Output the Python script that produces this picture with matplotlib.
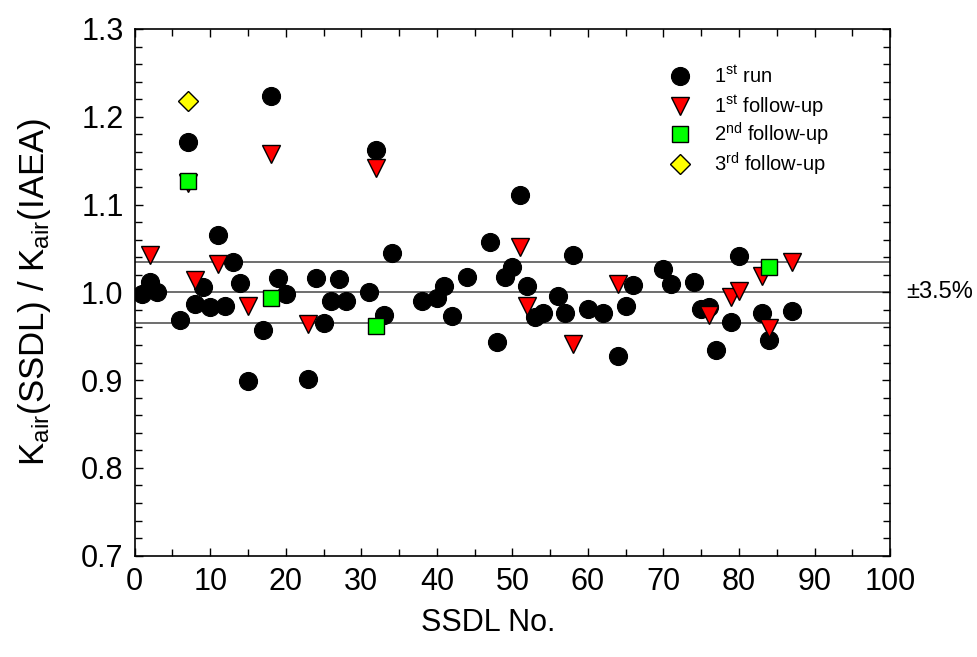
import matplotlib
matplotlib.use("Agg")
import matplotlib.pyplot as plt
from matplotlib.ticker import MultipleLocator

plt.rcParams['font.family'] = ['Liberation Sans', 'DejaVu Sans']
plt.rcParams['mathtext.fontset'] = 'custom'
plt.rcParams['mathtext.rm'] = 'Liberation Sans'
plt.rcParams['mathtext.it'] = 'Liberation Sans:italic'

# 1st run
run1_x = [1, 2, 3, 6, 7, 8, 9, 10, 11, 12, 13, 14, 15, 17, 18, 19, 20, 23, 24, 25,
          26, 27, 28, 31, 32, 33, 34, 38, 40, 41, 42, 44, 47, 48, 49, 50, 51, 52, 53, 54,
          56, 57, 58, 60, 62, 64, 65, 66, 70, 71, 74, 75, 76, 77, 79, 80, 83, 84, 87]
run1_y = [0.998, 1.012, 1.000, 0.969, 1.171, 0.987, 1.006, 0.983, 1.065, 0.984,
          1.035, 1.011, 0.899, 0.957, 1.224, 1.016, 0.998, 0.901, 1.016, 0.965,
          0.990, 1.015, 0.990, 1.000, 1.162, 0.974, 1.045, 0.990, 0.993, 1.007,
          0.973, 1.017, 1.057, 0.943, 1.017, 1.029, 1.111, 1.007, 0.972, 0.976,
          0.996, 0.977, 1.042, 0.981, 0.977, 0.927, 0.985, 1.008, 1.027, 1.010,
          1.012, 0.981, 0.983, 0.934, 0.9665, 1.041, 0.976, 0.946, 0.979]

# 1st follow-up
fu1_x = [2, 7, 8, 11, 15, 18, 23, 32, 51, 52, 58, 64, 76, 79, 80, 83, 84, 87]
fu1_y = [1.043, 1.124, 1.014, 1.032, 0.984, 1.158, 0.964, 1.142, 1.052, 0.985,
         0.941, 1.010, 0.974, 0.995, 1.002, 1.019, 0.959, 1.034]

# 2nd follow-up
fu2_x = [7, 18, 32, 84]
fu2_y = [1.127, 0.994, 0.962, 1.029]

# 3rd follow-up
fu3_x = [7]
fu3_y = [1.218]

ref_lines = [1.035, 1.0, 0.965]

fig = plt.figure(figsize=(9.77, 6.57), dpi=100)
ax = fig.add_axes([0.1379, 0.1542, 0.7731, 0.8017])

for yv in ref_lines:
    ax.axhline(yv, color='#555555', lw=1.2, zorder=1)

h1, = ax.plot(run1_x, run1_y, 'o', ms=13, color='black', mec='black', mew=0.8,
              label=r'1$^{\mathrm{st}}$ run', zorder=3)
h2, = ax.plot(fu1_x, fu1_y, 'v', ms=13, color='#FF0000', mec='black', mew=1.0,
              label=r'1$^{\mathrm{st}}$ follow-up', zorder=4)
h3, = ax.plot(fu2_x, fu2_y, 's', ms=11, color='#00FF00', mec='black', mew=1.0,
              label=r'2$^{\mathrm{nd}}$ follow-up', zorder=5)
h4, = ax.plot(fu3_x, fu3_y, 'D', ms=10, color='#FFFF00', mec='black', mew=1.0,
              label=r'3$^{\mathrm{rd}}$ follow-up', zorder=6)

ax.set_xlim(0, 100)
ax.set_ylim(0.7, 1.3)
ax.xaxis.set_major_locator(MultipleLocator(10))
ax.xaxis.set_minor_locator(MultipleLocator(5))
ax.yaxis.set_major_locator(MultipleLocator(0.1))
ax.yaxis.set_minor_locator(MultipleLocator(0.02))
ax.tick_params(which='both', direction='in', top=True, right=True, width=1)
ax.tick_params(which='major', length=6, labelsize=22, pad=8)
ax.tick_params(which='minor', length=5)
for s in ax.spines.values():
    s.set_linewidth(1.2)

ax.set_xlabel('SSDL No.', fontsize=22)
ax.xaxis.set_label_coords(0.4684, -0.10)
ax.set_ylabel(r'K$_{\mathrm{air}}$(SSDL) / K$_{\mathrm{air}}$(IAEA)', fontsize=25)
ax.yaxis.set_label_coords(-0.108, 0.5)

ax.text(102.2, 1.0, '±3.5%', fontsize=17, va='center', ha='left', clip_on=False)

# legend: one row per entry so rows are evenly spaced
handles = [h1, h2, h3, h4]
row_y = [0.9094, 0.8524, 0.8006, 0.7436]
for i, (h, yy) in enumerate(zip(handles, row_y)):
    leg = ax.legend(handles=[h], loc='center left', bbox_to_anchor=(0.7085, yy),
                    frameon=False, fontsize=14.5, handlelength=1.0,
                    handletextpad=1.2, borderpad=0, borderaxespad=0, numpoints=1)
    if i < len(handles) - 1:
        ax.add_artist(leg)

fig.savefig('out.png', dpi=100)
